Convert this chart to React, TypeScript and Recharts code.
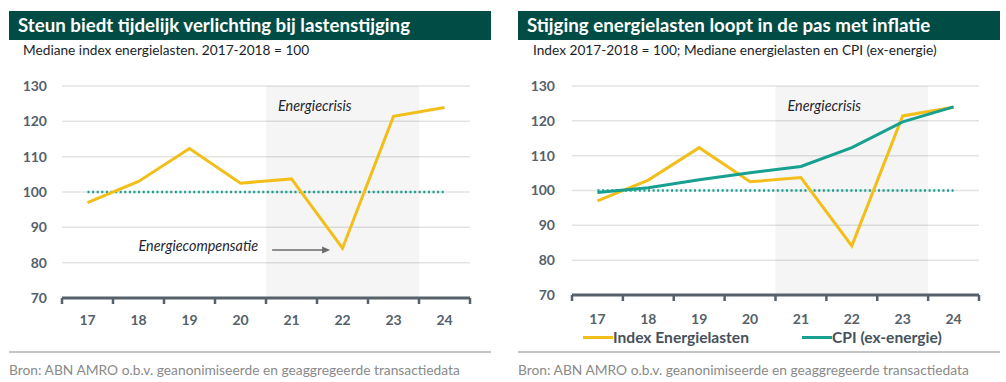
import React from "react";
import {
  CartesianGrid,
  Line,
  LineChart,
  ReferenceArea,
  ReferenceDot,
  XAxis,
  YAxis,
} from "recharts";

// years shown as two-digit labels
const years = [17, 18, 19, 20, 21, 22, 23, 24];
const energieIndex = [97.0, 103.0, 112.3, 102.5, 103.7, 84.1, 121.4, 123.9];
const cpiExEnergie = [99.4, 100.8, 103.1, 105.1, 106.9, 112.3, 119.7, 124.0];
const baseline = [100, 100, 100, 100, 100, 100, 100, 100];
const yTicks = [70, 80, 90, 100, 110, 120, 130];
const crisisYears = [21, 23];
const compensatiePoint = { x: 20.62, y: 83.6 };

const seriesNames = ["Index Energielasten", "CPI (ex-energie)"];

const YELLOW = "#f2bf1a";
const TEAL = "#17a090";
const AXIS = "#56616b";
const GRID = "#e3e3e3";
const HEADER = "#024c46";
const FONT = "Lato, 'Open Sans', sans-serif";

const data = years.map((year, i) => ({
  year,
  energie: energieIndex[i],
  cpi: cpiExEnergie[i],
  base: baseline[i],
}));

const bounds = [...years.map((y) => y - 0.5), years[years.length - 1] + 0.5];
const domain: [number, number] = [bounds[0], bounds[bounds.length - 1]];

function CrisisLabel(props: any) {
  const { viewBox } = props;
  if (!viewBox) return null;
  return (
    <text
      x={viewBox.x + 12}
      y={viewBox.y + 21}
      dominantBaseline="middle"
      fontStyle="italic"
      fontSize={14.4}
      fontFamily={FONT}
      fill="#1f2630"
    >
      Energiecrisis
    </text>
  );
}

function CompensatieArrow(props: any) {
  const { cx, cy } = props;
  if (cx == null || cy == null) return null;
  return (
    <g>
      <text
        x={cx - 14}
        y={cy - 3}
        textAnchor="end"
        dominantBaseline="middle"
        fontStyle="italic"
        fontSize={14.4}
        fontFamily={FONT}
        fill="#1f2630"
      >
        Energiecompensatie
      </text>
      <line x1={cx} y1={cy} x2={cx + 51} y2={cy} stroke="#6b6b6b" strokeWidth={1.5} />
      <polygon
        points={`${cx + 58},${cy} ${cx + 50},${cy - 3.5} ${cx + 50},${cy + 3.5}`}
        fill="#6b6b6b"
      />
    </g>
  );
}

// tick marks only, no text
function EmptyTick() {
  return <g />;
}

function Header({ left, width, title, subtitle, titleX, subX }: any) {
  return (
    <>
      <div
        style={{
          position: "absolute",
          left,
          top: 11,
          width,
          height: 29,
          background: HEADER,
        }}
      />
      <div
        style={{
          position: "absolute",
          left: left + titleX,
          top: 11,
          height: 29,
          lineHeight: "29px",
          color: "#fff",
          fontWeight: 700,
          fontSize: 18.7,
          fontFamily: FONT,
          whiteSpace: "nowrap",
        }}
      >
        {title}
      </div>
      <div
        style={{
          position: "absolute",
          left: left + subX,
          top: 42,
          lineHeight: "16px",
          color: "#1b1f2a",
          fontSize: 13.7,
          fontFamily: FONT,
          whiteSpace: "nowrap",
        }}
      >
        {subtitle}
      </div>
    </>
  );
}

function Footer({ left, width }: { left: number; width: number }) {
  return (
    <>
      <div
        style={{
          position: "absolute",
          left,
          top: 351,
          width,
          height: 1.5,
          background: "#c4c4c4",
        }}
      />
      <div
        style={{
          position: "absolute",
          left,
          top: 361,
          lineHeight: "18px",
          color: "#8a8a8a",
          fontSize: 13.8,
          fontFamily: FONT,
          whiteSpace: "nowrap",
        }}
      >
        Bron: ABN AMRO o.b.v. geanonimiseerde en geaggregeerde transactiedata
      </div>
    </>
  );
}

const tickStyle = { fill: AXIS, fontSize: 14, fontWeight: 700, fontFamily: FONT };

export default function App() {
  const axisPair = (lblMargin: number) => [
    <XAxis
      key="labels"
      xAxisId="b_labels"
      dataKey="year"
      type="number"
      domain={domain}
      ticks={years}
      interval={0}
      axisLine={false}
      tickLine={false}
      tickSize={0}
      tickMargin={lblMargin}
      height={22}
      tick={tickStyle}
    />,
    <XAxis
      key="axis"
      xAxisId="a_axis"
      dataKey="year"
      type="number"
      domain={domain}
      ticks={bounds}
      interval={0}
      tick={<EmptyTick />}
      tickSize={6}
      height={8}
      axisLine={{ stroke: AXIS, strokeWidth: 3 }}
      tickLine={{ stroke: AXIS, strokeWidth: 2.5 }}
    />,
  ];

  return (
    <div
      style={{
        position: "absolute",
        left: 0,
        top: 0,
        width: 1006,
        height: 382,
        background: "#fff",
        overflow: "hidden",
      }}
    >
      <Header
        left={9}
        width={482}
        titleX={9}
        subX={14}
        title="Steun biedt tijdelijk verlichting bij lastenstijging"
        subtitle="Mediane index energielasten. 2017-2018 = 100"
      />
      <Header
        left={518}
        width={482}
        titleX={9}
        subX={15}
        title="Stijging energielasten loopt in de pas met inflatie"
        subtitle="Index 2017-2018 = 100; Mediane energielasten en CPI (ex-energie)"
      />

      {/* left chart */}
      <div style={{ position: "absolute", left: 0, top: 70 }}>
        <LineChart
          width={490}
          height={262}
          data={data}
          margin={{ top: 16, right: 20, left: 0, bottom: 4 }}
        >
          <CartesianGrid xAxisId="a_axis" vertical={false} stroke={GRID} strokeWidth={1.5} />
          <ReferenceArea
            xAxisId="a_axis"
            x1={crisisYears[0] - 0.5}
            x2={crisisYears[1] + 0.5}
            fill="#000"
            fillOpacity={0.04}
            stroke="none"
            label={<CrisisLabel />}
          />
          {axisPair(9)}
          <YAxis
            domain={[70, 130]}
            ticks={yTicks}
            width={62}
            axisLine={false}
            tickLine={false}
            tickMargin={9}
            tick={tickStyle}
          />
          <Line
            xAxisId="b_labels"
            dataKey="base"
            stroke={TEAL}
            strokeWidth={2.5}
            strokeDasharray="2 2.6"
            dot={false}
            isAnimationActive={false}
          />
          <Line
            xAxisId="a_axis"
            dataKey="energie"
            name={seriesNames[0]}
            stroke={YELLOW}
            strokeWidth={3}
            dot={false}
            isAnimationActive={false}
          />
          <ReferenceDot
            xAxisId="a_axis"
            x={compensatiePoint.x}
            y={compensatiePoint.y}
            r={0}
            shape={(p: any) => <CompensatieArrow {...p} />}
          />
        </LineChart>
      </div>

      {/* right chart */}
      <div style={{ position: "absolute", left: 500, top: 70 }}>
        <LineChart
          width={500}
          height={260}
          data={data}
          margin={{ top: 16, right: 21, left: 0, bottom: 5 }}
        >
          <CartesianGrid xAxisId="a_axis" vertical={false} stroke={GRID} strokeWidth={1.5} />
          <ReferenceArea
            xAxisId="a_axis"
            x1={crisisYears[0] - 0.5}
            x2={crisisYears[1] + 0.5}
            fill="#000"
            fillOpacity={0.04}
            stroke="none"
            label={<CrisisLabel />}
          />
          {axisPair(11)}
          <YAxis
            domain={[70, 130]}
            ticks={yTicks}
            width={72}
            axisLine={false}
            tickLine={false}
            tickMargin={11}
            tick={tickStyle}
          />
          <Line
            xAxisId="b_labels"
            dataKey="base"
            stroke={TEAL}
            strokeWidth={2.5}
            strokeDasharray="2 2.6"
            dot={false}
            isAnimationActive={false}
          />
          <Line
            xAxisId="a_axis"
            dataKey="energie"
            name={seriesNames[0]}
            stroke={YELLOW}
            strokeWidth={3}
            dot={false}
            isAnimationActive={false}
          />
          <Line
            xAxisId="a_axis"
            dataKey="cpi"
            name={seriesNames[1]}
            stroke={TEAL}
            strokeWidth={3}
            dot={false}
            isAnimationActive={false}
          />
        </LineChart>
      </div>

      {/* legend for right chart */}
      {[YELLOW, TEAL].map((color, i) => (
        <div
          key={seriesNames[i]}
          style={{
            position: "absolute",
            left: 583 + i * 219,
            top: 328,
            height: 18,
            display: "flex",
            alignItems: "center",
            fontFamily: FONT,
            fontWeight: 700,
            fontSize: 15.6,
            color: "#47515b",
            whiteSpace: "nowrap",
          }}
        >
          <span style={{ width: 30, height: 3, background: color, display: "inline-block" }} />
          {seriesNames[i]}
        </div>
      ))}

      <Footer left={9} width={482} />
      <Footer left={518} width={482} />
    </div>
  );
}
